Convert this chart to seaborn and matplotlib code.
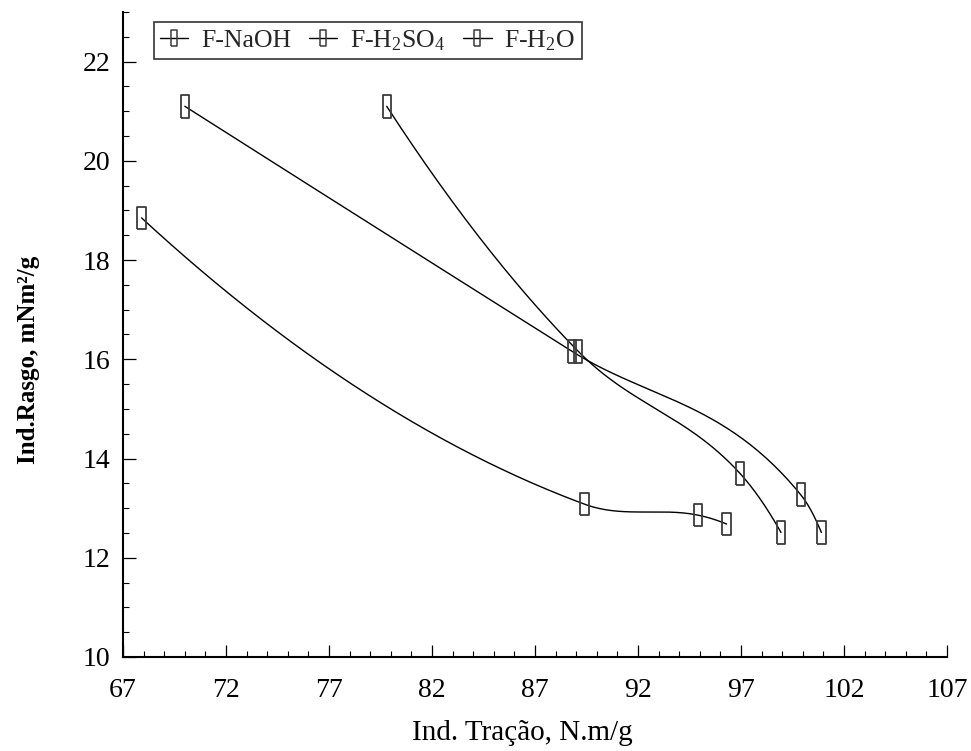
import numpy as np
import pandas as pd
import matplotlib
matplotlib.use("Agg")
import matplotlib.pyplot as plt
from matplotlib.lines import Line2D
from matplotlib.ticker import MultipleLocator
import seaborn as sns

# ---- data ----
series_names = ["F-NaOH", "F-H$_2$SO$_4$", "F-H$_2$O"]
naoh_x = [70.0, 88.8, 99.9, 100.9]
naoh_y = [21.1, 16.16, 13.27, 12.51]
h2so4_x = [79.8, 89.1, 96.95, 98.94]
h2so4_y = [21.1, 16.16, 13.70, 12.51]
h2o_x = [67.9, 89.4, 94.9, 96.3]
h2o_y = [18.85, 13.08, 12.86, 12.68]
x_ticks = [67, 72, 77, 82, 87, 92, 97, 102, 107]
y_ticks = [10, 12, 14, 16, 18, 20, 22]

sns.set_theme(style="ticks")
plt.rcParams["font.family"] = ["Liberation Serif", "DejaVu Serif"]
plt.rcParams["mathtext.fontset"] = "custom"
plt.rcParams["mathtext.rm"] = "Liberation Serif"
plt.rcParams["mathtext.it"] = "Liberation Serif:italic"
plt.rcParams["mathtext.bf"] = "Liberation Serif:bold"


def smooth_curve(x, y, n=60):
    """Cubic Hermite curve through the points (finite-difference tangents)."""
    x = np.asarray(x, float)
    y = np.asarray(y, float)
    d = np.diff(y) / np.diff(x)
    m = np.empty_like(y)
    m[1:-1] = (d[:-1] + d[1:]) / 2
    m[0] = 2 * d[0] - m[1]
    m[-1] = 2 * d[-1] - m[-2]
    xs_all, ys_all = [], []
    for i in range(len(x) - 1):
        h = x[i + 1] - x[i]
        t = np.linspace(0, 1, n)
        h00 = 2 * t**3 - 3 * t**2 + 1
        h10 = t**3 - 2 * t**2 + t
        h01 = -2 * t**3 + 3 * t**2
        h11 = t**3 - t**2
        xs_all.append(x[i] + t * h)
        ys_all.append(h00 * y[i] + h10 * h * m[i] + h01 * y[i + 1] + h11 * h * m[i + 1])
    return np.concatenate(xs_all), np.concatenate(ys_all)


fig = plt.figure(figsize=(9.71, 7.51), dpi=100)
ax = fig.add_axes([0.1267, 0.1252, 0.8486, 0.8588])

rect = [(-0.183, -0.5), (0.183, -0.5), (0.183, 0.5), (-0.183, 0.5), (-0.183, -0.5)]
edge = "#3c3c3c"

all_x = [naoh_x, h2so4_x, h2o_x]
all_y = [naoh_y, h2so4_y, h2o_y]
for name, xv, yv in zip(series_names, all_x, all_y):
    xs, ys = smooth_curve(xv, yv)
    sns.lineplot(x=xs, y=ys, ax=ax, color="black", linewidth=1.0,
                 sort=False, estimator=None)
    ax.scatter(xv, yv, marker=rect, s=16.3 ** 2, facecolors="none",
               edgecolors=edge, linewidths=1.3, zorder=3)

ax.set_xlim(67, 107)
ax.set_ylim(10, 23)
ax.set_xticks(x_ticks)
ax.set_yticks(y_ticks)
ax.xaxis.set_minor_locator(MultipleLocator(1))
ax.yaxis.set_minor_locator(MultipleLocator(0.5))
ax.tick_params(axis="both", which="major", direction="in", length=9,
               width=0.9, labelsize=20, color="black", labelcolor="black")
ax.tick_params(axis="x", which="major", pad=15)
ax.tick_params(axis="y", which="major", pad=9)
ax.tick_params(axis="both", which="minor", direction="in", length=4.5,
               width=0.8, color="black")
for s in ["top", "right"]:
    ax.spines[s].set_visible(False)
for s in ["left", "bottom"]:
    ax.spines[s].set_linewidth(1.5)
    ax.spines[s].set_color("black")

ax.set_xlabel("Ind. Tração, N.m/g", fontsize=21, color="black")
ax.xaxis.set_label_coords(0.484, -0.097)
ax.set_ylabel("Ind.Rasgo, mNm²/g", fontsize=18, fontweight="bold", color="black")
ax.yaxis.set_label_coords(-0.101, 0.46)

handles = [Line2D([0], [0], color="black", linewidth=1.0, marker=rect,
                  markersize=11, markerfacecolor="none",
                  markeredgecolor=edge, markeredgewidth=1.1)
           for _ in series_names]
leg = ax.legend(handles, series_names, loc="upper left", ncol=3,
                bbox_to_anchor=(0.037, 0.985), frameon=True, fancybox=False,
                edgecolor="black", fontsize=18.5, handlelength=1.1,
                handletextpad=0.5, columnspacing=0.7, borderpad=0.25,
                borderaxespad=0)
leg.get_frame().set_linewidth(1.2)

fig.savefig("out.png", dpi=100)
